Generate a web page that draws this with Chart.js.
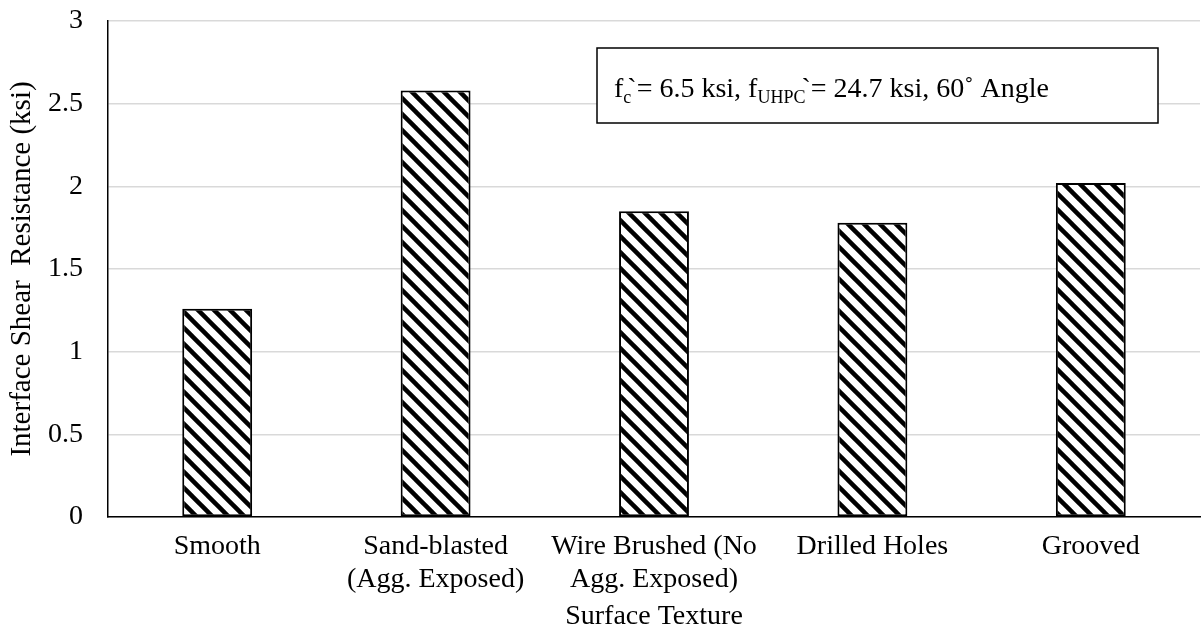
<!DOCTYPE html>
<html>
<head>
<meta charset="utf-8">
<script src="https://cdn.jsdelivr.net/npm/chart.js@4.4.1/dist/chart.umd.min.js"></script>
<style>
  html, body { margin: 0; padding: 0; background: #fff; }
  #chart { display: block; }
</style>
</head>
<body>
<canvas id="chart" width="1201" height="637"></canvas>
<script>
// values
const textures = [
    'Smooth',
    ['Sand-blasted', '(Agg. Exposed)'],
    ['Wire Brushed (No', 'Agg. Exposed)'],
    'Drilled Holes',
    'Grooved'
];
const shearResistance = [1.26, 2.58, 1.85, 1.78, 2.02];
const yTicks = [0, 0.5, 1, 1.5, 2, 2.5, 3];

const serif = '"Liberation Serif", "Times New Roman", serif';

// downward diagonal hatch, like the Excel fill
function makeHatch() {
    const size = 16;
    const tile = document.createElement('canvas');
    tile.width = size;
    tile.height = size;
    const c = tile.getContext('2d');
    c.fillStyle = '#fff';
    c.fillRect(0, 0, size, size);
    c.strokeStyle = '#000';
    c.lineWidth = 4.5;
    for (let k = -1; k <= 1; k++) {
        c.beginPath();
        c.moveTo(k * size - 2, -2);
        c.lineTo(k * size + size + 2, size + 2);
        c.stroke();
    }
    return c.createPattern(tile, 'repeat');
}

// text box with the test parameters (sub/superscripts drawn by hand)
const noteBox = {
    id: 'noteBox',
    afterDraw(chart) {
        const ctx = chart.ctx;
        const x0 = 597, y0 = 48, w = 561, h = 75;
        ctx.save();
        ctx.fillStyle = '#fff';
        ctx.fillRect(x0, y0, w, h);
        ctx.strokeStyle = '#000';
        ctx.lineWidth = 1.5;
        ctx.strokeRect(x0, y0, w, h);

        const parts = [
            { t: 'f', size: 28, dy: 0 },
            { t: 'c', size: 18, dy: 6 },
            { t: '`', size: 28, dy: 0, back: 4 },
            { t: '= 6.5 ksi, f', size: 28, dy: 0 },
            { t: 'UHPC', size: 18, dy: 6 },
            { t: '`', size: 28, dy: 0, back: 4 },
            { t: '= 24.7 ksi, 60˚ Angle', size: 28, dy: 0 }
        ];
        let x = 614;
        const base = 97;
        ctx.fillStyle = '#000';
        ctx.textBaseline = 'alphabetic';
        ctx.textAlign = 'left';
        parts.forEach(p => {
            ctx.font = p.size + 'px ' + serif;
            if (p.back) x -= p.back;
            ctx.fillText(p.t, x, base + p.dy);
            x += ctx.measureText(p.t).width;
        });
        ctx.restore();
    }
};

new Chart(document.getElementById('chart'), {
    type: 'bar',
    data: {
        labels: textures,
        datasets: [{
            label: 'Interface Shear Resistance',
            data: shearResistance,
            backgroundColor: makeHatch(),
            borderColor: '#000',
            borderWidth: 2,
            borderSkipped: false,
            categoryPercentage: 1,
            barPercentage: 0.32
        }]
    },
    options: {
        responsive: false,
        animation: false,
        devicePixelRatio: 1,
        layout: { padding: { top: 21, right: 1, left: 0, bottom: 0 } },
        plugins: {
            legend: { display: false },
            tooltip: { enabled: false }
        },
        scales: {
            x: {
                grid: { display: false, drawTicks: false },
                border: { color: '#000', width: 1.5 },
                ticks: {
                    color: '#000',
                    font: { family: serif, size: 28, lineHeight: 1.15 },
                    maxRotation: 0,
                    autoSkip: false,
                    padding: 14
                },
                title: {
                    display: true,
                    text: 'Surface Texture',
                    color: '#000',
                    font: { family: serif, size: 28, lineHeight: 1.15 },
                    padding: { top: 0, bottom: 4 }
                },
                afterFit: s => {
                    s.height = 120;
                    s.paddingLeft = 0;
                    s.paddingRight = 0;
                }
            },
            y: {
                min: 0,
                max: 3,
                afterBuildTicks: s => { s.ticks = yTicks.map(v => ({ value: v })); },
                grid: { color: '#d9d9d9', lineWidth: 1.5, drawTicks: false },
                border: { color: '#000', width: 1.5 },
                ticks: {
                    color: '#000',
                    font: { family: serif, size: 28 },
                    padding: 25,
                    callback: v => String(v)
                },
                title: {
                    display: true,
                    text: 'Interface Shear  Resistance (ksi)',
                    color: '#000',
                    font: { family: serif, size: 29, lineHeight: 1.2 },
                    padding: { top: 5, bottom: 0 }
                },
                afterFit: s => {
                    s.width = 108;
                    s.paddingTop = 0;
                    s.paddingBottom = 0;
                }
            }
        }
    },
    plugins: [noteBox]
});
</script>
</body>
</html>
